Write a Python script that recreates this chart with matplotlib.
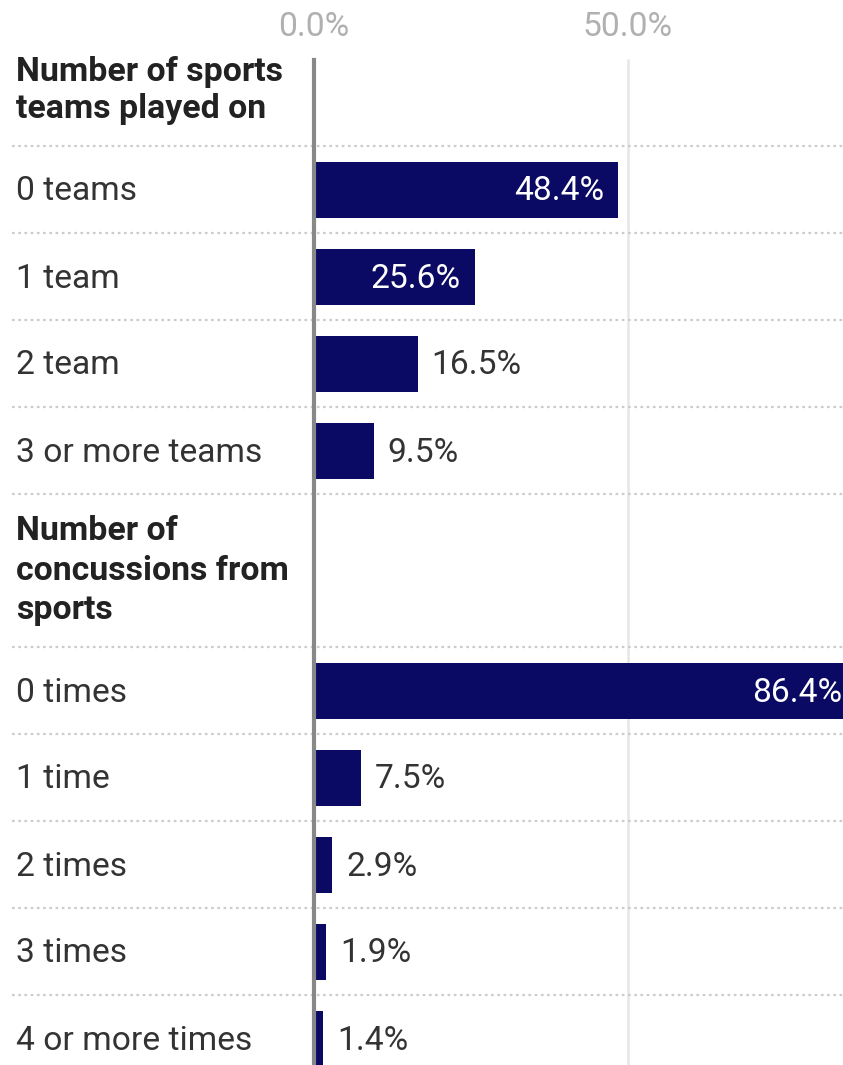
import matplotlib
matplotlib.use("Agg")
import matplotlib.pyplot as plt

plt.rcParams['font.family'] = ['Roboto', 'DejaVu Sans']

# Survey groups and their answer shares (percent)
group_titles = ["Number of sports\nteams played on",
                "Number of\nconcussions from\nsports"]
team_labels = ["0 teams", "1 team", "2 team", "3 or more teams"]
team_values = [48.4, 25.6, 16.5, 9.5]
concussion_labels = ["0 times", "1 time", "2 times", "3 times", "4 or more times"]
concussion_values = [86.4, 7.5, 2.9, 1.9, 1.4]
tick_values = [0, 50]
tick_labels = ["0.0%", "50.0%"]

W, H, DPI = 843, 1065, 100
fig = plt.figure(figsize=(W / DPI, H / DPI), dpi=DPI)
ax = fig.add_axes([0, 0, 1, 1])

# x: percent, 6.28 px per percentage point, zero line at 314 px
PX_PER_PCT = 6.28
ZERO_PX = 314
x_left = -ZERO_PX / PX_PER_PCT
x_right = (W - ZERO_PX) / PX_PER_PCT
ax.set_xlim(x_left, x_right)
ax.set_ylim(H, 0)  # y in pixels from top
ax.axis('off')

BAR_COLOR = '#0a0a64'
TEXT_COLOR = '#333333'
FS = 24.2
FS_HEAD = 24.4
ROW_H = 87
BAR_H = 56
GRID_TOP = 60
LABEL_X = x_left + 16 / PX_PER_PCT
PAD = 14 / PX_PER_PCT
INSIDE_MIN = 20  # bars at least this long carry their label inside

# (title, labels, values, header height, title centre offset, line spacing)
groups = [(group_titles[0], team_labels, team_values, 86, 30.5, 1.2),
          (group_titles[1], concussion_labels, concussion_values, 153, 77, 1.3)]

separators = []
y = GRID_TOP
for title, labels, values, head_h, t_off, lsp in groups:
    ax.text(LABEL_X, y + t_off, title, fontsize=FS_HEAD, fontweight='bold',
            color='#222222', ha='left', va='center', linespacing=lsp)
    y = y + head_h
    separators.append(y)
    centers = [y + ROW_H * i + 16 + BAR_H / 2 for i in range(len(values))]
    ax.barh(centers, values, height=BAR_H, left=0, color=BAR_COLOR, zorder=3)
    for c, lab, v in zip(centers, labels, values):
        ax.text(LABEL_X, c + 1.5, lab, fontsize=FS, color=TEXT_COLOR,
                ha='left', va='center')
        txt = f"{v:.1f}%"
        if v >= INSIDE_MIN:
            ax.text(v - PAD, c + 1.5, txt, fontsize=FS, color='white',
                    ha='right', va='center', zorder=4)
        else:
            ax.text(v + PAD, c + 1.5, txt, fontsize=FS, color=TEXT_COLOR,
                    ha='left', va='center', zorder=4)
    for i in range(1, len(values) + 1):
        separators.append(y + ROW_H * i)
    y = y + ROW_H * len(values)

# dotted row separators
for s in separators:
    ax.plot([x_left + 12 / PX_PER_PCT, x_right], [s, s], color='#cccccc',
            lw=1.6, linestyle=(0, (1.2, 1.6)), zorder=1)

# vertical gridline at 50% and zero baseline
for tv in tick_values:
    if tv == 0:
        ax.plot([tv, tv], [GRID_TOP, H], color='#888888', lw=3.0, zorder=5)
    else:
        ax.plot([tv, tv], [GRID_TOP, H], color='#e6e6e6', lw=1.8, zorder=0)

for tv, tl in zip(tick_values, tick_labels):
    ax.text(tv, 27, tl, fontsize=FS, color='#b0b0b0', ha='center', va='center')

fig.savefig('out.png', dpi=DPI)
